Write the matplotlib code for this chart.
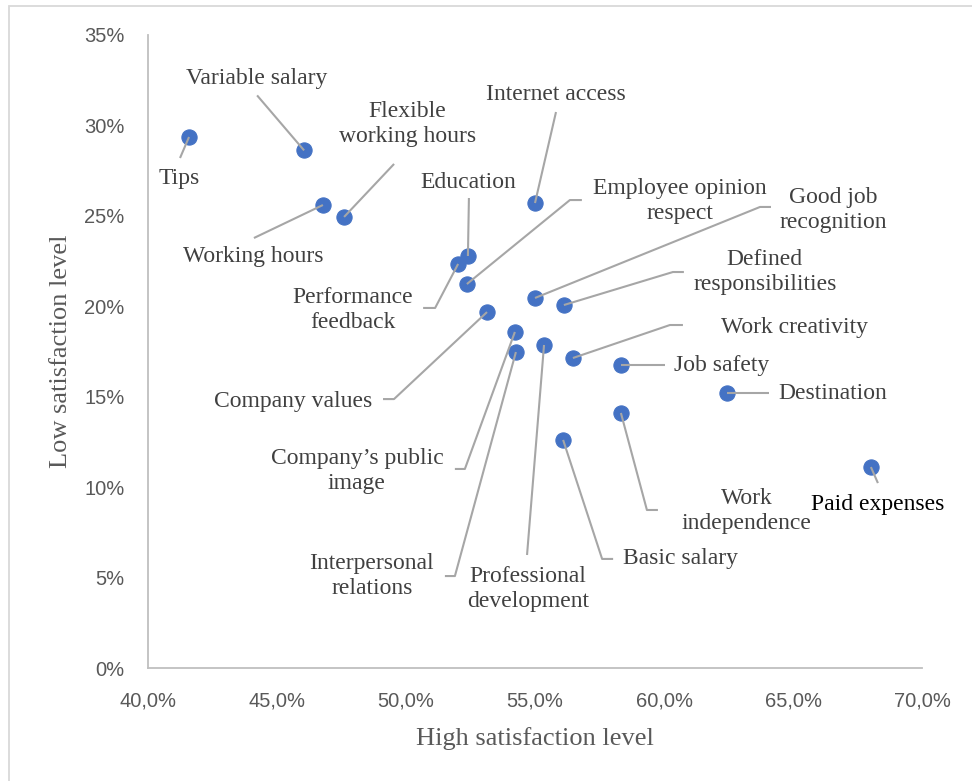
import matplotlib
matplotlib.use("Agg")
import matplotlib.pyplot as plt
from matplotlib.lines import Line2D
from matplotlib.patches import Rectangle
from matplotlib.ticker import FixedLocator, FuncFormatter

# ---- data (percent) ----
factors = ["Tips", "Variable salary", "Flexible\nworking hours", "Working hours",
           "Internet access", "Education", "Performance\nfeedback",
           "Employee opinion\nrespect", "Good job\nrecognition",
           "Defined\nresponsibilities", "Work creativity", "Job safety",
           "Destination", "Work\nindependence", "Basic salary", "Paid expenses",
           "Professional\ndevelopment", "Interpersonal\nrelations",
           "Company\u2019s public\nimage", "Company values"]
high_satisfaction = [41.59, 46.05, 47.60, 46.78, 55.00, 52.40, 52.02, 52.36, 55.00,
                     56.12, 56.47, 58.33, 62.44, 58.33, 56.09, 68.02, 55.35, 54.26,
                     54.22, 53.14]
low_satisfaction = [29.36, 28.62, 24.94, 25.60, 25.71, 22.78, 22.34, 21.23, 20.46,
                    20.07, 17.14, 16.75, 15.21, 14.10, 12.61, 11.11, 17.86, 17.47,
                    18.58, 19.68]
x_ticks = [40, 45, 50, 55, 60, 65, 70]
y_ticks = [0, 5, 10, 15, 20, 25, 30, 35]

# ---- label placement (pixel offsets from the point, image y downwards) ----
label_offsets = [(-10, 41), (-47, -72), (63, -93), (-70, 51), (21, -109), (0, -74),
                 (-105, 46), (213, -83), (298, -88), (201, -33), (222, -31), (101, 0),
                 (106, 1), (126, 98), (117, 119), (7, 37), (-16, 244), (-144, 224),
                 (-158, 139), (-194, 89)]
leader_paths = [[(-9, 21)], [(-47, -55)], [(50, -53)], [(-69, 33)], [(21, -91)],
                [(1, -58)], [(-23, 44), (-35, 44)], [(103, -84), (115, -84)],
                [(225, -91), (236, -91)], [(109, -33), (120, -33)],
                [(97, -33), (110, -33)], [(44, 0)], [(42, 0)],
                [(26, 97), (37, 97)], [(39, 119), (50, 119)], [(7, 16)],
                [(-17, 210)], [(-61, 224), (-71, 224)], [(-50, 137), (-60, 137)],
                [(-93, 87), (-104, 87)]]
label_colors = ["#404040"] * 15 + ["#000000"] + ["#404040"] * 4

W, H, DPI = 972, 781, 100
fig = plt.figure(figsize=(W / DPI, H / DPI), dpi=DPI)
fig.patch.set_facecolor("white")
ax = fig.add_axes([148 / W, 1 - 668 / H, (922 - 148) / W, (668 - 35) / H])

ax.set_xlim(40, 70)
ax.set_ylim(0, 35)

ax.scatter(high_satisfaction, low_satisfaction, s=120, color="#4472C4",
           edgecolors="#4472C4", linewidths=0.8, zorder=3)

ax.xaxis.set_major_locator(FixedLocator(x_ticks))
ax.yaxis.set_major_locator(FixedLocator(y_ticks))
ax.xaxis.set_major_formatter(FuncFormatter(lambda v, p: f"{v:.1f}%".replace(".", ",")))
ax.yaxis.set_major_formatter(FuncFormatter(lambda v, p: f"{v:.0f}%"))
ax.tick_params(axis="both", length=0, labelsize=14.5, labelcolor="#595959")
ax.tick_params(axis="x", pad=17)
ax.tick_params(axis="y", pad=17)
for lbl in ax.get_xticklabels() + ax.get_yticklabels():
    lbl.set_fontfamily(["Liberation Sans", "DejaVu Sans"])

for side in ["top", "right"]:
    ax.spines[side].set_visible(False)
for side in ["left", "bottom"]:
    ax.spines[side].set_color("#BFBFBF")
    ax.spines[side].set_linewidth(1.3)

ax.set_xlabel("High satisfaction level", fontsize=19, color="#595959",
              family=["Liberation Serif", "DejaVu Serif"], va="center")
ax.set_ylabel("Low satisfaction level", fontsize=19, color="#595959",
              family=["Liberation Serif", "DejaVu Serif"], va="center")
ax.xaxis.set_label_coords(0.5, -(739 - 668) / 633)
ax.yaxis.set_label_coords(-(148 - 61) / 774, 0.5)

# data labels with leader lines
for name, xv, yv, off, path, col in zip(factors, high_satisfaction, low_satisfaction,
                                        label_offsets, leader_paths, label_colors):
    ax.annotate(name, xy=(xv, yv), xytext=(off[0], -off[1]),
                textcoords="offset pixels", ha="center", va="center",
                fontsize=17, color=col, linespacing=1.3,
                family=["Liberation Serif", "DejaVu Serif"], zorder=4)
    px, py = ax.transData.transform((xv, yv))
    xs = [px] + [px + dx for dx, dy in path]
    ys = [py] + [py - dy for dx, dy in path]
    fig.add_artist(Line2D(xs, ys, transform=None, color="#A6A6A6", lw=1.5,
                          zorder=2, solid_capstyle="butt"))

# chart area border
fig.add_artist(Rectangle((9 / W, -0.01), 1.0, 1 - 6 / H + 0.01,
                         transform=fig.transFigure, fill=False,
                         edgecolor="#D9D9D9", lw=1.3))

fig.savefig("out.png", dpi=DPI, facecolor="white")
